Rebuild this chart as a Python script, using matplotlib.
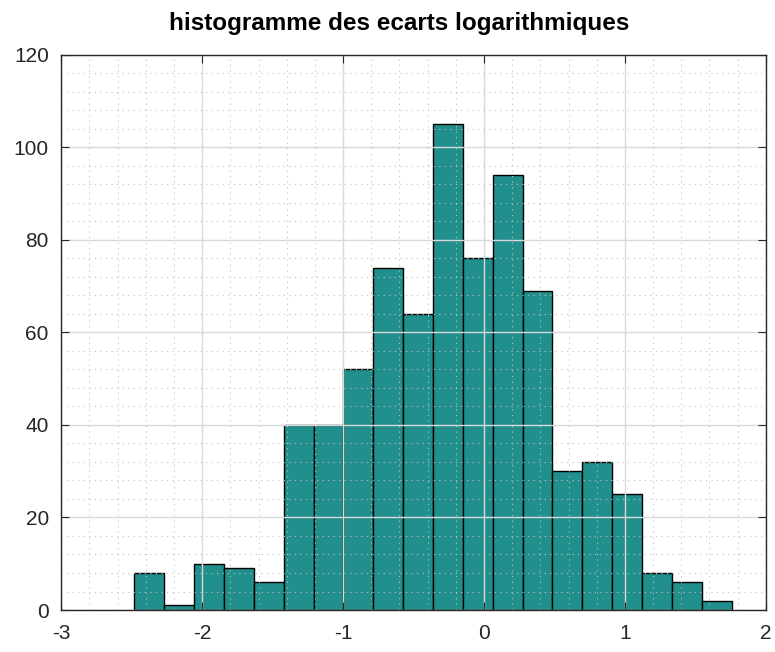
import matplotlib
matplotlib.use('Agg')
import matplotlib.pyplot as plt
from matplotlib.ticker import MultipleLocator
import numpy as np

plt.rcParams['font.family'] = ['Liberation Sans', 'DejaVu Sans']
plt.rcParams['axes.unicode_minus'] = False

# histogram of log deviations
counts = [8, 1, 10, 9, 6, 40, 40, 52, 74, 64, 105, 76, 94, 69, 30, 32, 25, 8, 6, 2]
bin_lo = -2.482
bin_hi = 1.758
xticks = [-3, -2, -1, 0, 1, 2]
yticks = [0, 20, 40, 60, 80, 100, 120]

edges = np.linspace(bin_lo, bin_hi, len(counts) + 1)

fig = plt.figure(figsize=(7.75, 6.52), dpi=100)
ax = fig.add_axes([0.0791, 0.0644, 0.9090, 0.8517])
ax.bar(edges[:-1], counts, width=np.diff(edges), align='edge',
       color='#21908c', edgecolor='black', linewidth=1.0, zorder=1)

ax.set_xlim(-3, 2)
ax.set_ylim(0, 120)
ax.set_xticks(xticks)
ax.set_yticks(yticks)
ax.xaxis.set_minor_locator(MultipleLocator(0.2))
ax.yaxis.set_minor_locator(MultipleLocator(4))
ax.grid(True, which='major', color='#d9d9d9', linewidth=1.0, zorder=3)
ax.grid(True, which='minor', color='#c0c0c0', linewidth=0.8, linestyle=(0, (1, 4)), zorder=3)
ax.set_axisbelow(False)
ax.tick_params(which='major', direction='in', top=True, right=True, length=6,
               labelsize=15, color='#262626', labelcolor='#262626')
ax.tick_params(axis='x', which='major', pad=10)
ax.tick_params(axis='y', which='major', pad=9)
ax.tick_params(which='minor', length=0)
for s in ax.spines.values():
    s.set_color('#262626')
    s.set_linewidth(1.0)
    s.set_zorder(4)

ax.set_title('histogramme des ecarts logarithmiques', fontsize=17.5, fontweight='bold',
             pad=18, x=0.48)

fig.savefig('out.png', dpi=100)
